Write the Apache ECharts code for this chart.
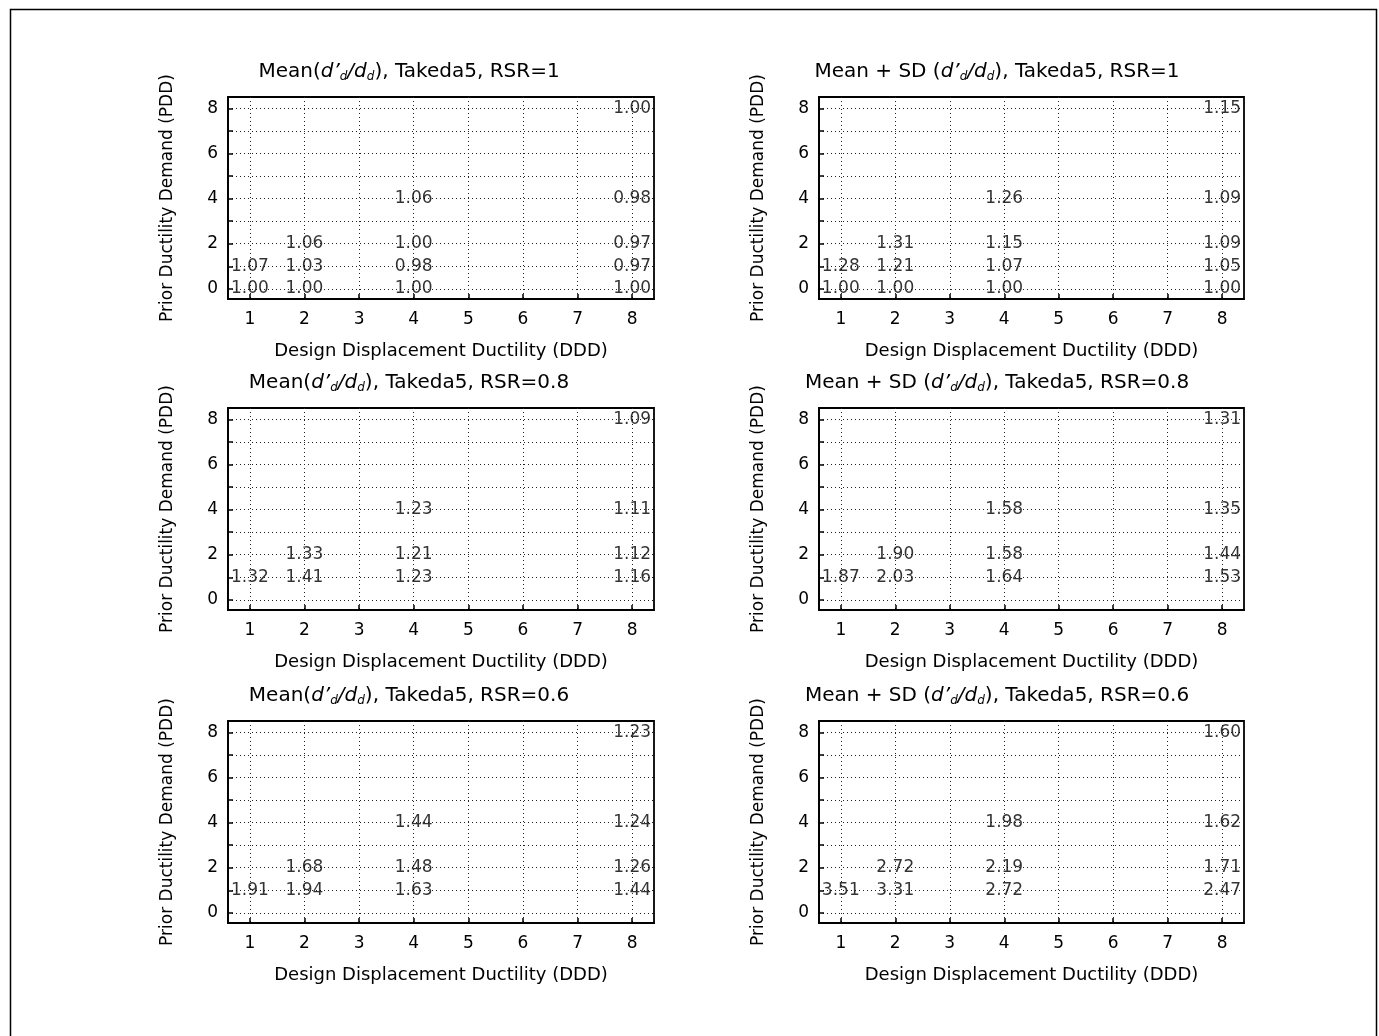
<!DOCTYPE html>
<html>
<head>
<meta charset="utf-8">
<script src="https://cdn.jsdelivr.net/npm/echarts@6/dist/echarts.min.js"></script>
<style>
  html, body { margin: 0; padding: 0; background: #fff; }
  #chart { width: 1379px; height: 1036px; }
</style>
</head>
<body>
<div id="chart"></div>
<script>
// ---- Data ----
const dddTicks = [1, 2, 3, 4, 5, 6, 7, 8];
const pddTicks = [0, 1, 2, 3, 4, 5, 6, 7, 8];
const pddLabels = [0, 2, 4, 6, 8];

// point coordinates (shared by all panels)
const pointDDD = [1, 2, 4, 8, 1, 2, 4, 8, 2, 4, 8, 4, 8, 8];
const pointPDD = [0, 0, 0, 0, 1, 1, 1, 1, 2, 2, 2, 4, 4, 8];

const meanRSR1   = [1.00, 1.00, 1.00, 1.00, 1.07, 1.03, 0.98, 0.97, 1.06, 1.00, 0.97, 1.06, 0.98, 1.00];
const meanSdRSR1 = [1.00, 1.00, 1.00, 1.00, 1.28, 1.21, 1.07, 1.05, 1.31, 1.15, 1.09, 1.26, 1.09, 1.15];
const meanRSR08   = [null, null, null, null, 1.32, 1.41, 1.23, 1.16, 1.33, 1.21, 1.12, 1.23, 1.11, 1.09];
const meanSdRSR08 = [null, null, null, null, 1.87, 2.03, 1.64, 1.53, 1.90, 1.58, 1.44, 1.58, 1.35, 1.31];
const meanRSR06   = [null, null, null, null, 1.91, 1.94, 1.63, 1.44, 1.68, 1.48, 1.26, 1.44, 1.24, 1.23];
const meanSdRSR06 = [null, null, null, null, 3.51, 3.31, 2.72, 2.47, 2.72, 2.19, 1.71, 1.98, 1.62, 1.60];

const panelTitlesPrefix = ['Mean(', 'Mean + SD (', 'Mean(', 'Mean + SD (', 'Mean(', 'Mean + SD ('];
const panelRSR = ['1', '1', '0.8', '0.8', '0.6', '0.6'];
const panelValues = [meanRSR1, meanSdRSR1, meanRSR08, meanSdRSR08, meanRSR06, meanSdRSR06];

const xName = 'Design Displacement Ductility (DDD)';
const yName = 'Prior Ductility Demand (PDD)';

// ---- Layout ----
const FONT = 'DejaVu Sans';
const gridLefts = [228, 819];
const gridWidths = [426, 425];
const gridTops = [97, 408, 721];
const gridHeight = 202;
const titleCenters = [404, 992];

const chart = echarts.init(document.getElementById('chart'), null, { renderer: 'canvas' });

const grids = [], xAxes = [], yAxes = [], series = [], titles = [];
const dotted = { color: '#222', width: 1, type: [1, 3] };

for (let p = 0; p < 6; p++) {
  const col = p % 2, row = Math.floor(p / 2);
  grids.push({
    left: gridLefts[col], top: gridTops[row], width: gridWidths[col], height: gridHeight,
    show: true, borderColor: '#000', borderWidth: 1.8, backgroundColor: 'transparent',
    containLabel: false
  });
  xAxes.push({
    gridIndex: p, type: 'value', min: 0.6, max: 8.4,
    name: xName, nameLocation: 'middle', nameGap: 43,
    nameTextStyle: { fontFamily: FONT, fontSize: 18, color: '#000' },
    axisLine: { show: true, onZero: false, lineStyle: { color: '#000', width: 1.8 } },
    axisTick: { show: true, inside: true, length: 5, customValues: dddTicks, lineStyle: { color: '#000', width: 1.5 } },
    axisLabel: { show: true, customValues: dddTicks, margin: 12, fontFamily: FONT, fontSize: 17, color: '#000' },
    splitLine: { show: true, lineStyle: dotted }
  });
  yAxes.push({
    gridIndex: p, type: 'value', min: -0.45, max: 8.5,
    name: yName, nameLocation: 'middle', nameGap: 52, nameRotate: 90,
    nameTextStyle: { fontFamily: FONT, fontSize: 17, color: '#000' },
    axisLine: { show: true, onZero: false, lineStyle: { color: '#000', width: 1.8 } },
    axisTick: { show: true, inside: true, length: 5, customValues: pddTicks, lineStyle: { color: '#000', width: 1.5 } },
    axisLabel: { show: true, customValues: pddLabels, margin: 10, fontFamily: FONT, fontSize: 17, color: '#000' },
    splitLine: { show: true, lineStyle: dotted }
  });
  const vals = panelValues[p];
  const data = [];
  for (let i = 0; i < vals.length; i++) {
    if (vals[i] !== null) data.push([pointDDD[i], pointPDD[i], vals[i]]);
  }
  series.push({
    type: 'scatter', xAxisIndex: p, yAxisIndex: p, symbolSize: 0, silent: true,
    data: data,
    label: {
      show: true, position: 'inside', fontFamily: FONT, fontSize: 17, color: '#000',
      formatter: (d) => d.value[2].toFixed(2)
    }
  });
  titles.push({
    text: '{n|' + panelTitlesPrefix[p] + '}{i|d\u2019}{s|d}{i|/d}{s|d}{n|), Takeda5, RSR=' + panelRSR[p] + '}',
    left: titleCenters[col], top: gridTops[row] - 41, textAlign: 'center',
    textStyle: {
      fontFamily: FONT, fontSize: 20, color: '#000', fontWeight: 'normal',
      rich: {
        n: { fontFamily: FONT, fontSize: 20, color: '#000' },
        i: { fontFamily: FONT, fontSize: 20, fontStyle: 'italic', color: '#000' },
        s: { fontFamily: FONT, fontSize: 12, fontStyle: 'italic', color: '#000', padding: [10, 0, 0, 0] }
      }
    }
  });
}

chart.setOption({
  backgroundColor: '#fff',
  animation: false,
  title: titles,
  grid: grids,
  xAxis: xAxes,
  yAxis: yAxes,
  series: series,
  graphic: [{
    type: 'rect', left: 8, top: 7, silent: true,
    shape: { width: 1366, height: 1045 },
    style: { fill: 'none', stroke: '#000', lineWidth: 1.5 }
  }]
});
</script>
</body>
</html>
